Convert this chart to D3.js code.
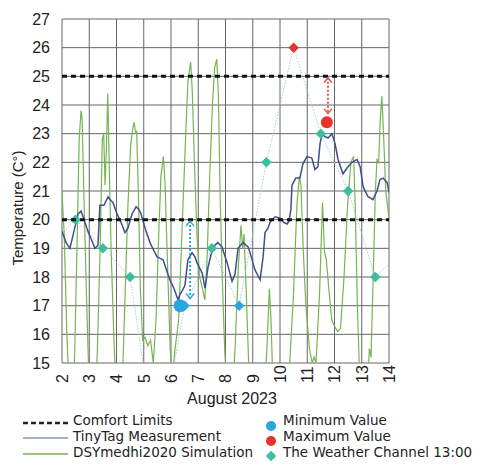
<!DOCTYPE html>
<html>
<head>
<meta charset="utf-8">
<script src="https://cdn.jsdelivr.net/npm/d3@7"></script>
<style>
  body { margin: 0; background: #fff; }
  text { font-family: "Liberation Sans", Arial, sans-serif; fill: #222; }
  text.leg { font-family: "DejaVu Sans", sans-serif; font-size: 13.5px; }
</style>
</head>
<body>
<svg id="chart" width="477" height="468"></svg>
<script>
// TinyTag measurement (day of August 2023, degC)
const tagDays = [2.0, 2.15, 2.29, 2.44, 2.59, 2.7, 2.81, 2.95, 3.06, 3.21, 3.32, 3.39, 3.54, 3.69, 3.76, 3.87,
  4.02, 4.17, 4.31, 4.42, 4.57, 4.72, 4.83, 4.9, 5.05, 5.23, 5.38, 5.49, 5.6, 5.71, 5.85, 5.96, 6.11, 6.26,
  6.33, 6.4, 6.51, 6.62, 6.77, 6.88, 6.95, 7.14, 7.25, 7.36, 7.54, 7.72, 7.87, 8.06, 8.24, 8.35, 8.46, 8.64,
  8.83, 8.9, 9.08, 9.27, 9.38, 9.45, 9.56, 9.63, 9.82, 10.0, 10.15, 10.26, 10.33, 10.4, 10.44, 10.58, 10.73,
  10.84, 10.99, 11.17, 11.28, 11.39, 11.47, 11.54, 11.65, 11.76, 11.91, 12.02, 12.13, 12.31, 12.46, 12.64,
  12.83, 12.94, 13.05, 13.23, 13.41, 13.56, 13.67, 13.78, 13.93, 14.0];
const tagTemps = [19.6, 19.2, 19.0, 19.6, 20.2, 20.3, 20.0, 19.6, 19.35, 19.0, 19.1, 20.5, 20.5, 20.8, 20.7, 20.6,
  20.2, 19.9, 19.55, 19.7, 20.2, 20.45, 20.35, 20.2, 19.7, 19.2, 18.9, 18.7, 18.65, 18.6, 18.2, 17.9, 17.6, 17.2,
  17.4, 17.5, 17.7, 18.6, 18.85, 18.7, 18.5, 18.15, 17.6, 18.35, 19.05, 19.2, 19.05, 18.5, 17.85, 18.1, 19.0, 19.2,
  19.05, 18.85, 18.25, 17.9, 18.7, 19.55, 19.7, 19.9, 20.1, 20.05, 19.9, 19.85, 19.95, 20.35, 21.2, 21.45, 21.45,
  21.95, 22.2, 22.15, 21.75, 21.85, 22.65, 23.0, 22.9, 22.85, 23.0, 22.65, 22.1, 21.6, 21.8, 22.0,
  22.1, 21.85, 21.15, 20.8, 20.7, 21.0, 21.4, 21.45, 21.3, 20.95];

// DSYmedhi2020 simulation
const simDays = [2.0, 2.08, 2.18, 2.28, 2.38, 2.47, 2.56, 2.63, 2.7, 2.74, 2.8, 2.88, 2.97, 3.08, 3.2, 3.3, 3.4,
  3.48, 3.53, 3.58, 3.63, 3.68, 3.73, 3.8, 3.9, 4.0, 4.12, 4.22, 4.32, 4.42, 4.52, 4.6, 4.65, 4.7, 4.74, 4.8,
  4.88, 4.96, 5.05, 5.15, 5.25, 5.35, 5.45, 5.55, 5.63, 5.72, 5.78, 5.87, 5.97, 6.05, 6.15, 6.28, 6.4, 6.52,
  6.62, 6.72, 6.78, 6.86, 6.95, 7.05, 7.15, 7.24, 7.32, 7.42, 7.52, 7.6, 7.68, 7.74, 7.8, 7.88, 7.97, 8.07,
  8.2, 8.35, 8.48, 8.57, 8.63, 8.68, 8.76, 8.85, 8.95, 9.2, 9.4, 9.52, 9.61, 9.67, 9.75, 9.9, 10.1, 10.3,
  10.5, 10.62, 10.71, 10.77, 10.85, 10.95, 11.08, 11.18, 11.25, 11.32, 11.45, 11.56, 11.63, 11.7, 11.8, 11.9,
  12.02, 12.12, 12.22, 12.35, 12.48, 12.6, 12.7, 12.76, 12.84, 12.94, 13.05, 13.18, 13.28, 13.34, 13.42,
  13.5, 13.56, 13.62, 13.68, 13.74, 13.8, 13.88, 13.97, 14.0];
const simTemps = [21.0, 19.5, 16.0, 13.5, 13.0, 15.5, 19.5, 22.8, 23.8, 23.5, 21.0, 18.0, 15.0, 13.0, 13.2, 15.5, 19.0,
  22.8, 23.0, 21.2, 22.5, 24.4, 22.0, 19.0, 16.0, 13.5, 12.8, 14.5, 17.5, 20.5, 22.6, 23.2, 23.4, 23.0, 23.1, 21.0,
  17.5, 15.8, 15.9, 15.6, 15.8, 15.0, 16.5, 19.5, 21.5, 22.2, 21.3, 18.5, 15.5, 14.5, 15.5, 16.5, 19.5, 22.5,
  24.8, 25.5, 24.5, 22.0, 19.5, 18.0, 17.6, 17.2, 18.5, 21.5, 24.0, 25.3, 25.6, 24.3, 21.0, 18.0, 15.5, 13.5,
  13.0, 15.5, 18.5, 19.8, 19.0, 19.5, 17.5, 15.0, 13.0, 12.5, 13.5, 15.5, 17.6, 16.5, 14.0, 12.5, 12.5, 14.0,
  17.5, 20.5, 21.5, 21.2, 19.0, 17.0, 15.5, 15.0, 15.2, 15.0, 17.4, 20.6, 18.9, 18.6, 17.5, 16.5,
  16.25, 16.1, 16.2, 18.0, 20.5, 22.0, 22.2, 20.5, 17.0, 14.0, 12.5, 13.5, 15.5, 15.2, 18.0,
  21.0, 22.1, 22.0, 23.5, 24.3, 23.0, 21.0, 20.3, 20.0];

// The Weather Channel 13:00
const weatherDays = [1.5, 2.5, 3.5, 4.5, 5.5, 6.5, 7.5, 8.5, 9.5, 10.5, 11.5, 12.5, 13.5, 14.5];
const weatherTemps = [19.1, 20, 19, 18, 11.7, 17, 19, 17, 22, 26, 23, 21, 18, 18.9];

const comfortLimits = [20, 25];
const dayTicks = d3.range(2, 15);
const tempTicks = d3.range(15, 28);

// [day, temp] of the TinyTag extremes, and [day, from, to] for the gap arrows
const minValue = [6.33, 17];
const maxValue = [11.72, 23.4];
const minArrow = [6.7, 19.95, 17.25];
const maxArrow = [11.76, 24.95, 23.7];

const svg = d3.select("#chart");
const x = d3.scaleLinear().domain([2, 14]).range([62, 389]);
const y = d3.scaleLinear().domain([15, 27]).range([363, 19]);

const cyan = "#2aa6de", red = "#e5342a", teal = "#3bbd9e";

svg.append("defs").append("clipPath").attr("id", "plot")
  .append("rect").attr("x", 62).attr("y", 19).attr("width", 327).attr("height", 344);

// grid
svg.append("g").selectAll("line").data(dayTicks).enter().append("line")
  .attr("x1", d => x(d)).attr("x2", d => x(d)).attr("y1", y(27)).attr("y2", y(15))
  .attr("stroke", "#666").attr("stroke-width", 1);
svg.append("g").selectAll("line").data(tempTicks).enter().append("line")
  .attr("y1", d => y(d)).attr("y2", d => y(d)).attr("x1", x(2)).attr("x2", x(14))
  .attr("stroke", "#666").attr("stroke-width", 1);

const plot = svg.append("g").attr("clip-path", "url(#plot)");

// simulation
plot.append("path")
  .datum(simDays.map((d, i) => [d, simTemps[i]]))
  .attr("fill", "none").attr("stroke", "#74b552").attr("stroke-width", 1.2)
  .attr("d", d3.line().x(d => x(d[0])).y(d => y(d[1])));

// weather channel connecting line
const weather = weatherDays.map((d, i) => [d, weatherTemps[i]]);
plot.append("path")
  .datum(weather)
  .attr("fill", "none").attr("stroke", "#9fd0da").attr("stroke-width", 1)
  .attr("stroke-dasharray", "1.5,1.5")
  .attr("d", d3.line().x(d => x(d[0])).y(d => y(d[1])));

// tinytag
plot.append("path")
  .datum(tagDays.map((d, i) => [d, tagTemps[i]]))
  .attr("fill", "none").attr("stroke", "#3f4f8e").attr("stroke-width", 1.5)
  .attr("d", d3.line().x(d => x(d[0])).y(d => y(d[1])));

// comfort limits
svg.append("g").selectAll("line").data(comfortLimits).enter().append("line")
  .attr("x1", x(2)).attr("x2", x(14)).attr("y1", d => y(d)).attr("y2", d => y(d))
  .attr("stroke", "#111").attr("stroke-width", 3).attr("stroke-dasharray", "5,4");

// gap arrows
function arrow(a, color) {
  const g = svg.append("g").attr("stroke", color).attr("fill", "none").attr("stroke-width", 2);
  g.append("line").attr("x1", x(a[0])).attr("x2", x(a[0])).attr("y1", y(a[1])).attr("y2", y(a[2]))
    .attr("stroke-dasharray", "2,2");
  const top = y(a[1]), bot = y(a[2]), cx = x(a[0]);
  g.append("path").attr("d", `M${cx - 4},${top + 5}L${cx},${top}L${cx + 4},${top + 5}`).attr("stroke-width", 1.5);
  g.append("path").attr("d", `M${cx - 4},${bot - 5}L${cx},${bot}L${cx + 4},${bot - 5}`).attr("stroke-width", 1.5);
}
arrow(minArrow, cyan);
arrow(maxArrow, "#e2574e");

// weather diamonds
const maxW = d3.max(weatherTemps);
const diamond = d3.symbol().type(d3.symbolDiamond2).size(70);
plot.selectAll(".wd").data(weather).enter().append("path")
  .attr("transform", d => `translate(${x(d[0])},${y(d[1])})`)
  .attr("d", diamond)
  .attr("fill", d => d[1] === maxW ? red : (d[1] === minValue[1] ? cyan : teal));

// min / max markers
svg.append("circle").attr("cx", x(minValue[0])).attr("cy", y(minValue[1])).attr("r", 6.5).attr("fill", cyan);
svg.append("circle").attr("cx", x(maxValue[0])).attr("cy", y(maxValue[1])).attr("r", 6).attr("fill", red);

// tick labels
svg.append("g").selectAll("text").data(tempTicks).enter().append("text")
  .attr("x", 50).attr("y", d => y(d)).attr("dy", "0.36em")
  .attr("text-anchor", "end").style("font-size", "16px").text(d => d);
svg.append("g").selectAll("text").data(dayTicks).enter().append("text")
  .attr("transform", d => `translate(${x(d)},383) rotate(-90)`).attr("dy", "0.36em")
  .attr("text-anchor", "start").style("font-size", "16px").text(d => d);

svg.append("text").attr("transform", "translate(18,208) rotate(-90)").attr("dy", "0.36em")
  .attr("text-anchor", "middle").style("font-size", "15px").text("Temperature (C°)");
svg.append("text").attr("x", 232).attr("y", 404).attr("text-anchor", "middle")
  .style("font-size", "16px").text("August 2023");

// legend
const leg = svg.append("g");
const rows = [425, 441, 457];
leg.append("line").attr("x1", 23).attr("x2", 68).attr("y1", rows[0] - 2).attr("y2", rows[0] - 2)
  .attr("stroke", "#222").attr("stroke-width", 2.5).attr("stroke-dasharray", "5,3");
leg.append("line").attr("x1", 23).attr("x2", 68).attr("y1", rows[1] - 3).attr("y2", rows[1] - 3)
  .attr("stroke", "#8496bd").attr("stroke-width", 1.3);
leg.append("line").attr("x1", 23).attr("x2", 68).attr("y1", rows[2] - 3).attr("y2", rows[2] - 3)
  .attr("stroke", "#74b552").attr("stroke-width", 1.3);
leg.append("text").attr("class", "leg").attr("x", 73).attr("y", rows[0]).text("Comfort Limits");
leg.append("text").attr("class", "leg").attr("x", 73).attr("y", rows[1]).text("TinyTag Measurement");
leg.append("text").attr("class", "leg").attr("x", 73).attr("y", rows[2]).text("DSYmedhi2020 Simulation");

leg.append("circle").attr("cx", 271).attr("cy", rows[0] + 1).attr("r", 5).attr("fill", cyan);
leg.append("circle").attr("cx", 271).attr("cy", rows[1]).attr("r", 5).attr("fill", red);
leg.append("path").attr("transform", `translate(271,${rows[2] - 1})`).attr("d", diamond).attr("fill", teal);
leg.append("text").attr("class", "leg").attr("x", 283).attr("y", rows[0]).text("Minimum Value");
leg.append("text").attr("class", "leg").attr("x", 283).attr("y", rows[1]).text("Maximum Value");
leg.append("text").attr("class", "leg").attr("x", 283).attr("y", rows[2]).text("The Weather Channel 13:00");
</script>
</body>
</html>
